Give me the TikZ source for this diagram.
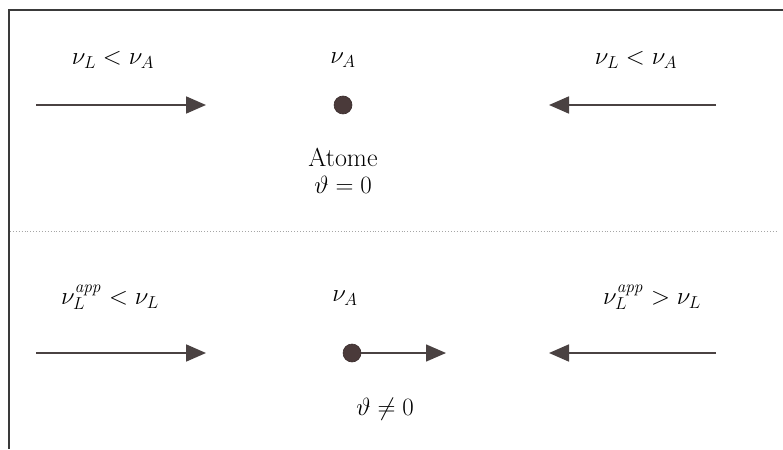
\documentclass[tikz,border=0pt]{standalone}
\usetikzlibrary{arrows.meta}
\begin{document}
\begin{tikzpicture}[x=1pt,y=-1pt,
  lbl/.style={inner sep=0pt,font=\fontsize{26}{30}\selectfont},
  beam/.style={draw=arrowcol,line width=1.8pt,-{Triangle[length=20pt,width=17pt]}},
  atom/.style={circle,fill=atomcol,draw=atomcol!80!black,line width=0.6pt,minimum size=18pt,inner sep=0pt},
  frameline/.style={draw=framecol,line width=2.4pt},
  sep/.style={draw=gray!70,line width=0.9pt,dotted}]
\definecolor{arrowcol}{HTML}{4A4242}
\definecolor{atomcol}{HTML}{4A3A3A}
\definecolor{framecol}{HTML}{3A3A3A}
\useasboundingbox (0,0) rectangle (783,449);
% frame
\coordinate (tl) at (9,10);
\coordinate (tr) at (783,10);
\coordinate (bl) at (9,449);
\draw[frameline] (tr) -- (tl) -- (bl);
% separator
\coordinate (s1) at (10,231);
\coordinate (s2) at (777,231);
\draw[sep] (s1) -- (s2);
% top row
\node[lbl] (t1) at (113,60) {$\nu_L < \nu_A$};
\node[lbl] (t2) at (343,60) {$\nu_A$};
\node[lbl] (t3) at (636,60) {$\nu_L < \nu_A$};
\node[atom] (a1) at (343,105) {};
\node[lbl] (at) at (343,157) {Atome};
\node[lbl] (th1) at (343,185) {$\vartheta = 0$};
\coordinate (l1s) at (36,105); \coordinate (l1e) at (206,105);
\coordinate (r1s) at (716,105); \coordinate (r1e) at (549,105);
\draw[beam] (l1s) -- (l1e);
\draw[beam] (r1s) -- (r1e);
% bottom row
\node[lbl] (b1) at (110,297) {$\nu_L^{\mathit{app}} < \nu_L$};
\node[lbl] (b2) at (345,298) {$\nu_A$};
\node[lbl] (b3) at (652,297) {$\nu_L^{\mathit{app}} > \nu_L$};
\node[atom] (a2) at (352,353) {};
\coordinate (v2) at (446,353);
\draw[beam,line width=1.4pt] (a2.east) -- (v2);
\node[lbl] (th2) at (385,409) {$\vartheta \neq 0$};
\coordinate (l2s) at (36,353); \coordinate (l2e) at (206,353);
\coordinate (r2s) at (716,353); \coordinate (r2e) at (549,353);
\draw[beam] (l2s) -- (l2e);
\draw[beam] (r2s) -- (r2e);
\end{tikzpicture}
\end{document}
